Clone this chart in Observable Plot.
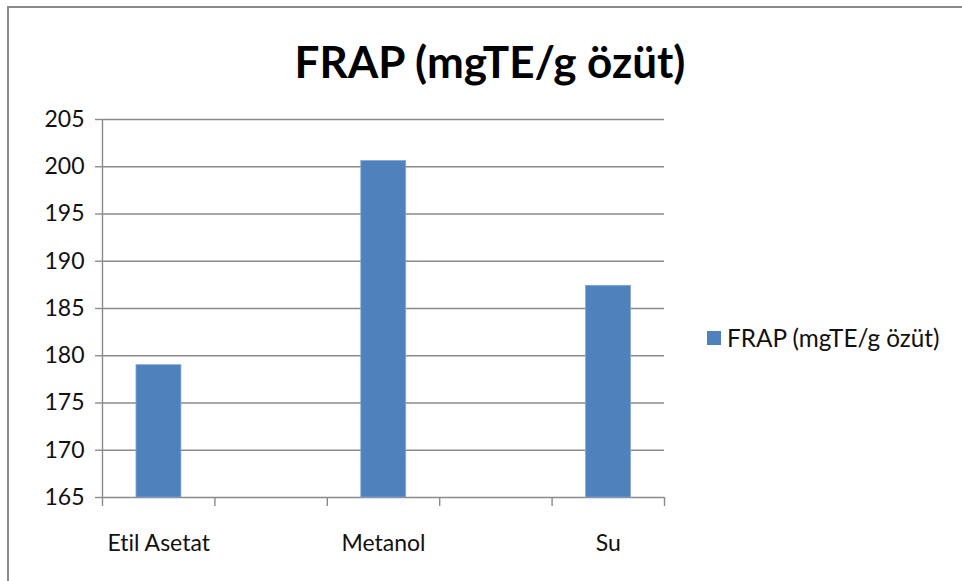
<!DOCTYPE html>
<html>
<head>
<meta charset="utf-8">
<script src="https://cdn.jsdelivr.net/npm/d3@7"></script>
<script src="https://cdn.jsdelivr.net/npm/@observablehq/plot@0.6"></script>
<style>
  html, body { margin: 0; padding: 0; background: #fff; }
  #wrap { position: relative; width: 962px; height: 581px; overflow: hidden; font-family: Lato, "Open Sans", sans-serif; font-variant-ligatures: none; }
  #wrap svg text { font-variant-ligatures: none; font-feature-settings: "liga" 0, "clig" 0; }
  #border { position: absolute; left: 7px; top: 6px; right: -10px; bottom: -10px; border-top: 2px solid #8a8a8a; border-left: 2px solid #8a8a8a; pointer-events: none; }
  #title { position: absolute; left: 0; width: 980px; top: 33px; text-align: center; font-size: 44px; font-weight: bold; color: #000; line-height: 56px; }
  #legend { position: absolute; left: 707px; top: 323px; font-size: 24.3px; color: #111; display: flex; align-items: center; line-height: 30px; }
  #legend .sw { width: 14px; height: 14px; background: #4f81bd; margin-right: 6px; }
  #chart { position: absolute; left: 0; top: 0; }
</style>
</head>
<body>
<div id="wrap">
  <div id="chart"></div>
  <div id="border"></div>
  <div id="title">FRAP (mgTE/g özüt)</div>
  <div id="legend"><div class="sw"></div><span>FRAP (mgTE/g özüt)</span></div>
</div>
<script>
const categories = ["Etil Asetat", "Metanol", "Su"];
const values = [179.0, 200.6, 187.4];
const seriesName = "FRAP (mgTE/g özüt)";
const yTicks = [165, 170, 175, 180, 185, 190, 195, 200, 205];

const slotCount = 5;
const data = categories.map((c, i) => ({category: c, value: values[i], slot: i * 2}));
const yMin = yTicks[0], yMax = yTicks[yTicks.length - 1];
const slotEdges = d3.range(slotCount + 1);

const chart = Plot.plot({
  width: 962,
  height: 581,
  marginLeft: 102,
  marginRight: 298,
  marginTop: 119,
  marginBottom: 84,
  style: {fontFamily: "Lato, 'Open Sans', sans-serif", fontSize: "23px", color: "#111", background: "transparent"},
  x: {type: "linear", domain: [0, slotCount], axis: null},
  y: {domain: [yMin, yMax], axis: null},
  marks: [
    Plot.ruleY(yTicks, {stroke: "#8a8a8a", strokeWidth: 1.4}),
    Plot.ruleX([0], {y1: yMin, y2: yMax, stroke: "#8a8a8a", strokeWidth: 1.4}),
    Plot.axisY({ticks: yTicks, tickSize: 7, tickPadding: 11, stroke: "#8a8a8a", strokeWidth: 1.4, strokeOpacity: 1, fill: "#111", fontSize: 23, label: null}),
    Plot.axisX({ticks: slotEdges, tickSize: 9, tickFormat: () => "", stroke: "#8a8a8a", strokeWidth: 1.4, strokeOpacity: 1, label: null}),
    Plot.rect(data, {
      x1: "slot", x2: d => d.slot + 1, y1: yMin, y2: "value",
      insetLeft: 34, insetRight: 33.5,
      fill: "#4f81bd", stroke: "#7fa6d6", strokeWidth: 0.8
    }),
    Plot.text(data, {x: d => d.slot + 0.5, y: yMin, text: "category", dy: 46, fill: "#111", fontSize: 23})
  ]
});

document.getElementById("chart").appendChild(chart);
</script>
</body>
</html>
